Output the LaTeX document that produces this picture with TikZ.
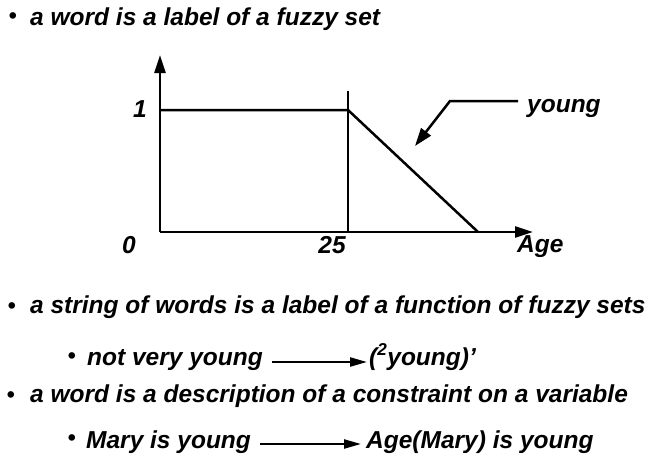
\documentclass[tikz,border=0pt]{standalone}
\usepackage{fontspec}
\setmainfont{Liberation Sans}
\usetikzlibrary{arrows.meta}
\begin{document}
\begin{tikzpicture}[x=1pt,y=-1pt,
  txt/.style={font=\fontsize{24.5}{28}\selectfont\bfseries\itshape, inner sep=0pt, anchor=base west},
  lbl/.style={font=\fontsize{24.5}{28}\selectfont\bfseries\itshape, inner sep=0pt, anchor=base},
  bul/.style={font=\fontsize{23}{25}\selectfont\bfseries, inner sep=0pt, anchor=center},
  axisline/.style={line width=2.7pt, -{Triangle[length=18pt,width=11pt]}},
  curve/.style={line width=2.5pt},
  mark25/.style={line width=2pt},
  pointer/.style={line width=2.5pt, -{Triangle[length=18pt,width=12pt]}},
  maps/.style={line width=2.3pt, -{Triangle[length=17pt,width=9pt]}}]
\useasboundingbox[fill=white] (0,0) rectangle (658,463);

% first bullet
\node[bul] (b1) at (13,18) {•};
\node[txt] (t1) at (30,25) {a word is a label of a fuzzy set};

% graph
\coordinate (O) at (160,232);
\coordinate (ytop) at (160,55);
\coordinate (xend) at (533,232);
\coordinate (c1) at (160,110);
\coordinate (c25) at (348,110);
\coordinate (m25top) at (348,91);
\coordinate (m25bot) at (348,232);
\coordinate (cend) at (478,232);
\draw[axisline] (O) -- (ytop);
\draw[axisline] (O) -- (xend);
\draw[curve] (c1) -- (c25) -- (cend);
\draw[mark25] (m25top) -- (m25bot);

\node[lbl] (one) at (140,117) {1};
\node[lbl] (zero) at (129,253) {0};
\node[lbl] (tf) at (332,253) {25};
\node[txt] (age) at (517,252) {Age};
\node[txt] (young) at (527,112) {young};

\coordinate (pbend) at (450,101);
\coordinate (ptip) at (415,146);
\draw[pointer] ([xshift=-9pt]young.west |- 0,101) -- (pbend) -- (ptip);

% second bullet
\node[bul] (b2) at (12,308) {•};
\node[txt] (t2) at (30,313) {a string of words is a label of a function of fuzzy sets};

\node[bul] (b2a) at (72,358) {•};
\node[txt] (nvy) at (87,365) {not very young};
\node[txt] (sq) at (369,365) {(\textsuperscript{2}young)\textquoteright};
\draw[maps] ([shift={(9,-3)}]nvy.base east) -- ([shift={(-2,-3)}]sq.base west);

% third bullet
\node[bul] (b3) at (11,397) {•};
\node[txt] (t3) at (30,402) {a word is a description of a constraint on a variable};

\node[bul] (b3a) at (72,440) {•};
\node[txt] (miy) at (86,448) {Mary is young};
\node[txt] (amy) at (366,448) {Age(Mary) is young};
\draw[maps] ([shift={(9,-4)}]miy.base east) -- ([shift={(-5,-4)}]amy.base west);
\end{tikzpicture}
\end{document}
